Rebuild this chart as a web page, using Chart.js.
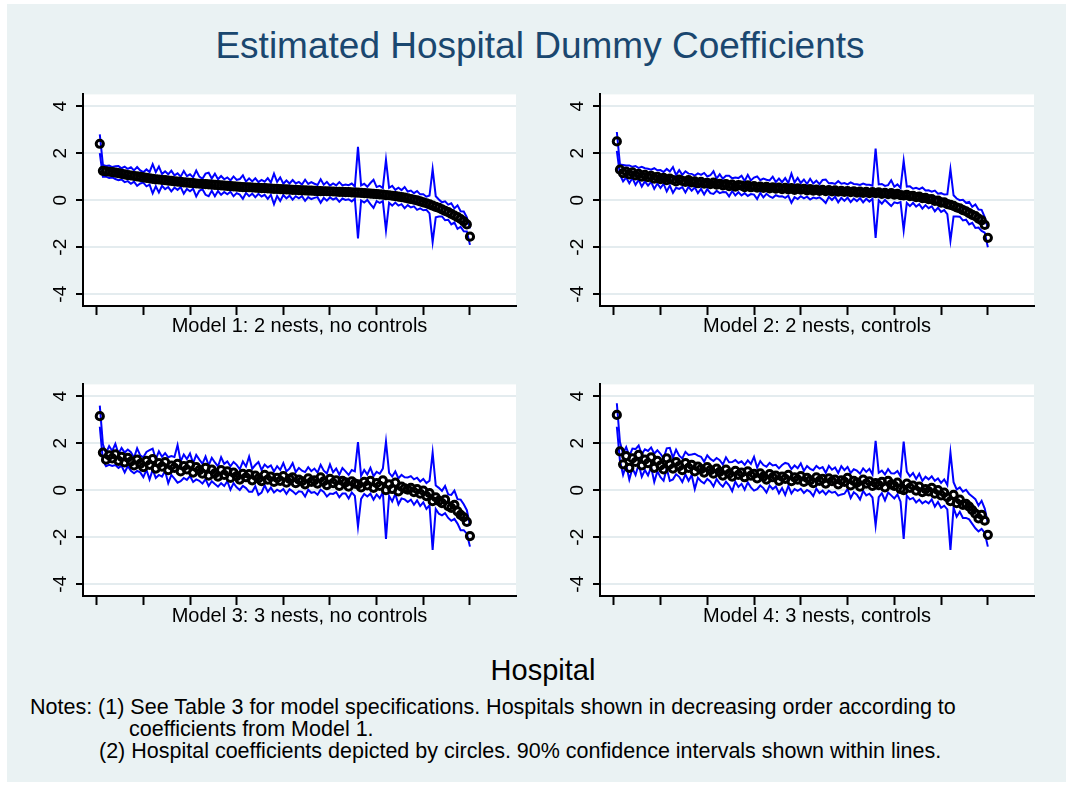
<!DOCTYPE html>
<html>
<head>
<meta charset="utf-8">
<title>Estimated Hospital Dummy Coefficients</title>
<script src="https://cdn.jsdelivr.net/npm/chart.js@4.4.0/dist/chart.umd.min.js"></script>
<style>
  html, body { margin: 0; padding: 0; background: #fff; }
  body { width: 1073px; height: 785px; position: relative; overflow: hidden;
         font-family: "Liberation Sans", Arial, sans-serif; }
  #frame { position: absolute; left: 7px; top: 4px; width: 1059px; height: 778px; background: #EAF2F3; }
  .panel { position: absolute; }
  .txt { position: absolute; white-space: nowrap; line-height: 1; color: #000; }
  .center { transform: translateX(-50%); }
</style>
</head>
<body>
<div id="frame"></div>
<div class="txt center" id="title" style="left:540px; top:27px; font-size:37px; color:#1A476F;">Estimated Hospital Dummy Coefficients</div>

<canvas class="panel" id="c1" width="490" height="262" style="left:33px; top:76px;"></canvas>
<canvas class="panel" id="c2" width="491" height="262" style="left:550px; top:76px;"></canvas>
<canvas class="panel" id="c3" width="490" height="262" style="left:33px; top:366px;"></canvas>
<canvas class="panel" id="c4" width="491" height="262" style="left:550px; top:366px;"></canvas>

<div class="txt center" id="xtitle" style="left:543px; top:656px; font-size:29px;">Hospital</div>
<div class="txt" id="note1" style="left:30px; top:697px; font-size:21.5px;">Notes: (1) See Table 3 for model specifications. Hospitals shown in decreasing order according to</div>
<div class="txt" id="note2" style="left:129px; top:719px; font-size:21.5px;">coefficients from Model 1.</div>
<div class="txt" id="note3" style="left:99px; top:741px; font-size:21.5px;">(2) Hospital coefficients depicted by circles. 90% confidence intervals shown within lines.</div>

<script>
// axis ticks
const xTicks = [0, 15, 30, 45, 60, 75, 90, 105, 120];
const yTicks = [-4, -2, 0, 2, 4];
const yTickLabels = ['-4', '-2', '0', '2', '4'];

const panelTitles = [
  'Model 1: 2 nests, no controls',
  'Model 2: 2 nests, controls',
  'Model 3: 3 nests, no controls',
  'Model 4: 3 nests, controls'
];

// Hospital coefficients, hospitals ranked by Model 1 (rank 1..120)
const m1Coef = [2.40,
  1.25, 1.23, 1.21, 1.19, 1.17, 1.15, 1.12, 1.10, 1.07,
  1.05, 1.03, 1.01, 0.99, 0.97, 0.95, 0.93, 0.91, 0.89, 0.88,
  0.86, 0.85, 0.83, 0.82, 0.80, 0.79, 0.78, 0.76, 0.75, 0.74,
  0.73, 0.71, 0.70, 0.69, 0.68, 0.67, 0.66, 0.65, 0.64, 0.63,
  0.62, 0.61, 0.60, 0.59, 0.58, 0.57, 0.56, 0.55, 0.55, 0.54,
  0.53, 0.52, 0.51, 0.51, 0.50, 0.49, 0.48, 0.48, 0.47, 0.46,
  0.46, 0.45, 0.44, 0.44, 0.43, 0.42, 0.42, 0.41, 0.41, 0.40,
  0.39, 0.39, 0.38, 0.38, 0.37, 0.37, 0.36, 0.35, 0.35, 0.34,
  0.34, 0.33, 0.32, 0.32, 0.31, 0.30, 0.29, 0.28, 0.27, 0.26,
  0.25, 0.24, 0.22, 0.21, 0.19, 0.17, 0.15, 0.13, 0.11, 0.08,
  0.05, 0.02, -0.01, -0.05, -0.09, -0.13, -0.18, -0.23, -0.28, -0.33,
  -0.39, -0.45, -0.51, -0.58, -0.65, -0.72, -0.80, -0.90, -1.03, -1.55];

const m2Coef = [2.50,
  1.30, 1.15, 1.22, 1.10, 1.18, 1.05, 1.12, 1.00, 1.08,
  0.98, 1.04, 0.92, 0.99, 0.90, 0.95, 0.85, 0.92, 0.86, 0.80,
  0.88, 0.82, 0.78, 0.85, 0.76, 0.80, 0.72, 0.78, 0.70, 0.74,
  0.68, 0.75, 0.66, 0.70, 0.63, 0.69, 0.60, 0.66, 0.58, 0.64,
  0.62, 0.56, 0.63, 0.55, 0.60, 0.53, 0.58, 0.52, 0.57, 0.50,
  0.55, 0.49, 0.54, 0.47, 0.52, 0.46, 0.51, 0.44, 0.50, 0.45,
  0.48, 0.42, 0.47, 0.41, 0.45, 0.40, 0.44, 0.38, 0.43, 0.37,
  0.42, 0.36, 0.40, 0.35, 0.39, 0.34, 0.38, 0.32, 0.37, 0.31,
  0.36, 0.30, 0.34, 0.30, 0.33, 0.27, 0.31, 0.26, 0.30, 0.24,
  0.27, 0.22, 0.20, 0.23, 0.17, 0.19, 0.13, 0.15, 0.09, 0.10,
  0.04, 0.05, -0.03, -0.02, -0.10, -0.09, -0.17, -0.20, -0.24, -0.31,
  -0.35, -0.42, -0.47, -0.55, -0.62, -0.68, -0.78, -0.86, -1.05, -1.60];

const m3Coef = [3.15,
  1.60, 1.30, 1.48, 1.35, 1.52, 1.25, 1.42, 1.18, 1.38,
  1.22, 1.05, 1.30, 1.12, 0.98, 1.25, 1.08, 1.32, 0.92, 1.15,
  1.00, 1.20, 0.85, 1.05, 0.95, 1.12, 0.80, 1.02, 0.88, 1.08,
  0.75, 0.98, 0.85, 0.70, 0.95, 0.62, 0.88, 0.72, 0.58, 0.85,
  0.65, 0.80, 0.52, 0.75, 0.60, 0.45, 0.70, 0.55, 0.68, 0.42,
  0.62, 0.50, 0.38, 0.65, 0.45, 0.58, 0.35, 0.52, 0.40, 0.60,
  0.32, 0.48, 0.55, 0.30, 0.45, 0.38, 0.25, 0.50, 0.35, 0.42,
  0.28, 0.55, 0.38, 0.22, 0.48, 0.30, 0.42, 0.18, 0.40, 0.33,
  0.15, 0.38, 0.28, 0.25, 0.12, 0.35, 0.20, 0.40, 0.10, 0.30,
  0.18, 0.42, 0.00, 0.25, 0.05, 0.32, -0.05, 0.15, 0.08, 0.02,
  0.10, -0.08, 0.05, -0.15, -0.02, -0.25, -0.12, -0.47, -0.30, -0.45,
  -0.55, -0.40, -0.68, -0.75, -0.62, -0.90, -1.05, -1.15, -1.35, -1.95];

const m4Coef = [3.20,
  1.65, 1.10, 1.45, 0.95, 1.35, 1.20, 1.50, 1.05, 1.30,
  1.15, 1.40, 0.95, 1.25, 1.05, 0.88, 1.35, 1.10, 0.92, 1.20,
  1.02, 0.85, 1.15, 0.95, 1.08, 0.80, 1.00, 0.90, 0.75, 0.98,
  0.85, 0.70, 0.92, 0.78, 0.62, 0.88, 0.70, 0.58, 0.82, 0.65,
  0.75, 0.55, 0.80, 0.62, 0.70, 0.50, 0.72, 0.58, 0.45, 0.68,
  0.55, 0.62, 0.40, 0.58, 0.48, 0.65, 0.38, 0.55, 0.45, 0.60,
  0.35, 0.52, 0.42, 0.30, 0.55, 0.40, 0.48, 0.28, 0.50, 0.38,
  0.45, 0.25, 0.42, 0.35, 0.52, 0.20, 0.40, 0.32, 0.15, 0.45,
  0.28, 0.38, 0.18, 0.30, 0.22, 0.35, 0.12, 0.40, 0.25, 0.18,
  0.32, 0.05, 0.00, 0.28, 0.10, 0.20, -0.02, 0.15, -0.08, 0.05,
  -0.05, 0.10, -0.15, 0.00, -0.22, -0.10, -0.30, -0.47, -0.20, -0.55,
  -0.40, -0.62, -0.58, -0.70, -0.85, -1.00, -1.20, -1.05, -1.30, -1.90];

// Half-widths of the 90% confidence intervals
const m1Half = [0.40,
  0.25, 0.23, 0.26, 0.22, 0.27, 0.30, 0.24, 0.33, 0.26,
  0.35, 0.24, 0.40, 0.28, 0.22, 0.36, 0.27, 0.62, 0.30, 0.55,
  0.25, 0.38, 0.27, 0.44, 0.26, 0.35, 0.22, 0.48, 0.27, 0.36,
  0.24, 0.55, 0.30, 0.22, 0.45, 0.50, 0.26, 0.48, 0.25, 0.40,
  0.27, 0.36, 0.24, 0.42, 0.28, 0.33, 0.50, 0.24, 0.38, 0.26,
  0.40, 0.25, 0.35, 0.28, 0.44, 0.26, 0.65, 0.30, 0.50, 0.24,
  0.38, 0.26, 0.42, 0.27, 0.35, 0.25, 0.45, 0.28, 0.36, 0.30,
  0.26, 0.50, 0.28, 0.40, 0.25, 0.34, 0.27, 0.42, 0.28, 0.33,
  0.30, 0.38, 0.26, 1.95, 0.32, 0.40, 0.28, 0.45, 0.60, 0.30,
  0.36, 0.28, 1.50, 0.32, 0.42, 0.27, 0.38, 0.30, 0.45, 0.29,
  0.36, 0.28, 0.40, 0.30, 0.34, 0.28, 0.38, 1.55, 0.45, 0.36,
  0.30, 0.40, 0.32, 0.45, 0.30, 0.50, 0.33, 0.42, 0.30, 0.35];

const m2Half = [0.40,
  0.22, 0.35, 0.26, 0.38, 0.24, 0.40, 0.25, 0.42, 0.28,
  0.36, 0.26, 0.44, 0.28, 0.38, 0.25, 0.48, 0.30, 0.55, 0.27,
  0.40, 0.26, 0.45, 0.28, 0.36, 0.25, 0.42, 0.30, 0.46, 0.27,
  0.38, 0.48, 0.26, 0.40, 0.28, 0.35, 0.44, 0.27, 0.38, 0.30,
  0.42, 0.26, 0.45, 0.29, 0.36, 0.48, 0.27, 0.40, 0.30, 0.34,
  0.45, 0.28, 0.38, 0.30, 0.42, 0.27, 0.62, 0.31, 0.45, 0.28,
  0.40, 0.27, 0.44, 0.30, 0.38, 0.28, 0.42, 0.50, 0.29, 0.36,
  0.27, 0.45, 0.30, 0.38, 0.28, 0.42, 0.31, 0.36, 0.28, 0.40,
  0.30, 0.36, 0.28, 1.90, 0.34, 0.42, 0.30, 0.38, 0.55, 0.33,
  0.40, 0.30, 1.48, 0.35, 0.42, 0.30, 0.40, 0.32, 0.45, 0.31,
  0.38, 0.31, 0.44, 0.30, 0.40, 0.33, 0.42, 1.52, 0.45, 0.38,
  0.35, 0.44, 0.36, 0.48, 0.34, 0.50, 0.38, 0.45, 0.33, 0.40];

const m3Half = [0.45,
  0.35, 0.28, 0.40, 0.32, 0.45, 0.30, 0.38, 0.42, 0.35,
  0.40, 0.33, 0.48, 0.36, 0.42, 0.38, 0.62, 0.45, 0.40, 0.50,
  0.42, 0.38, 0.55, 0.40, 0.46, 0.80, 0.42, 0.50, 0.44, 0.48,
  0.40, 0.52, 0.45, 0.42, 0.48, 0.44, 0.50, 0.46, 0.43, 0.55,
  0.47, 0.42, 0.50, 0.45, 0.48, 0.44, 0.52, 0.46, 0.75, 0.49,
  0.45, 0.70, 0.48, 0.44, 0.52, 0.47, 0.45, 0.50, 0.46, 0.55,
  0.48, 0.44, 0.60, 0.47, 0.50, 0.45, 0.52, 0.48, 0.46, 0.50,
  0.47, 0.53, 0.45, 0.49, 0.62, 0.46, 0.50, 0.48, 0.54, 0.47,
  0.50, 0.48, 0.52, 1.80, 0.49, 0.51, 0.47, 0.55, 0.50, 0.48,
  0.52, 0.50, 2.07, 0.49, 0.53, 0.48, 0.55, 0.50, 0.47, 0.52,
  0.50, 0.54, 0.48, 0.52, 0.50, 0.55, 0.52, 2.07, 0.50, 0.55,
  0.52, 0.58, 0.50, 0.55, 0.60, 0.52, 0.65, 0.55, 0.50, 0.45];

const m4Half = [0.50,
  0.40, 0.45, 0.38, 0.50, 0.42, 0.55, 0.40, 0.48, 0.44,
  0.52, 0.42, 0.60, 0.45, 0.50, 0.48, 0.43, 0.70, 0.46, 0.52,
  0.45, 0.50, 0.48, 0.55, 0.44, 0.75, 0.47, 0.52, 0.46, 0.50,
  0.48, 0.54, 0.45, 0.50, 0.47, 0.52, 0.49, 0.62, 0.46, 0.51,
  0.48, 0.53, 0.47, 0.50, 0.72, 0.46, 0.52, 0.49, 0.55, 0.48,
  0.50, 0.46, 0.53, 0.49, 0.68, 0.47, 0.52, 0.50, 0.48, 0.54,
  0.47, 0.51, 0.49, 0.55, 0.48, 0.52, 0.50, 0.46, 0.53, 0.49,
  0.52, 0.48, 0.60, 0.50, 0.47, 0.53, 0.49, 0.51, 0.55, 0.48,
  0.50, 0.53, 0.49, 1.80, 0.52, 0.48, 0.55, 0.50, 0.47, 0.53,
  0.50, 0.54, 2.07, 0.51, 0.49, 0.53, 0.50, 0.55, 0.48, 0.52,
  0.51, 0.49, 0.55, 0.50, 0.53, 0.56, 0.52, 2.07, 0.54, 0.58,
  0.52, 0.56, 0.60, 0.54, 0.58, 0.62, 0.55, 0.60, 0.52, 0.50];

const hospitalRank = m1Coef.map((_, i) => i + 1);

const FONT = '"Liberation Sans", Arial, sans-serif';

// white plot region
const plotBg = {
  id: 'plotBg',
  beforeDraw(chart) {
    const { ctx, chartArea: a } = chart;
    ctx.save();
    ctx.fillStyle = '#ffffff';
    ctx.fillRect(a.left, a.top, a.right - a.left, a.bottom - a.top);
    ctx.restore();
  }
};

function makePanel(canvasId, label, coef, half) {
  const pts = coef.map((v, i) => ({ x: hospitalRank[i], y: v }));
  const upper = coef.map((v, i) => ({ x: hospitalRank[i], y: v + half[i] }));
  const lower = coef.map((v, i) => ({ x: hospitalRank[i], y: v - half[i] }));

  const lineStyle = {
    type: 'line',
    borderColor: '#0000FF',
    borderWidth: 2,
    pointRadius: 0,
    tension: 0,
    fill: false,
    order: 2
  };

  return new Chart(document.getElementById(canvasId), {
    type: 'scatter',
    data: {
      datasets: [
        {
          label: 'Coefficient',
          data: pts,
          pointStyle: 'circle',
          pointRadius: 3.6,
          pointBorderWidth: 3,
          pointBorderColor: '#000',
          pointBackgroundColor: 'rgba(0,0,0,0)',
          order: 1
        },
        Object.assign({ label: 'Upper 90% CI', data: upper }, lineStyle),
        Object.assign({ label: 'Lower 90% CI', data: lower }, lineStyle)
      ]
    },
    options: {
      responsive: false,
      animation: false,
      layout: { padding: { top: 14, right: 0, left: 0, bottom: 0 } },
      plugins: { legend: { display: false }, tooltip: { enabled: false } },
      scales: {
        x: {
          type: 'linear',
          min: -4.4,
          max: 134.8,
          afterBuildTicks: s => { s.ticks = xTicks.map(v => ({ value: v })); },
          afterFit: s => { s.height = 32; },
          ticks: { display: false },
          grid: { drawOnChartArea: false, drawTicks: true, tickLength: 9,
                  tickColor: '#000', tickWidth: 2, color: '#000' },
          border: { color: '#000', width: 2 },
          title: { display: true, text: label, color: '#000',
                   font: { family: FONT, size: 20 }, padding: 0 }
        },
        y: {
          min: -4.5,
          max: 4.5,
          afterBuildTicks: s => { s.ticks = yTicks.map(v => ({ value: v })); },
          afterFit: s => { s.width = 50; },
          ticks: {
            minRotation: 90,
            maxRotation: 90,
            crossAlign: 'center',
            padding: 7,
            color: '#000',
            font: { family: FONT, size: 19 },
            callback: (v, i) => yTickLabels[i]
          },
          grid: { color: '#E4ECEF', lineWidth: 2, tickColor: '#000',
                  tickWidth: 2, tickLength: 7 },
          border: { color: '#000', width: 2 }
        }
      }
    },
    plugins: [plotBg]
  });
}

makePanel('c1', panelTitles[0], m1Coef, m1Half);
makePanel('c2', panelTitles[1], m2Coef, m2Half);
makePanel('c3', panelTitles[2], m3Coef, m3Half);
makePanel('c4', panelTitles[3], m4Coef, m4Half);
</script>
</body>
</html>
